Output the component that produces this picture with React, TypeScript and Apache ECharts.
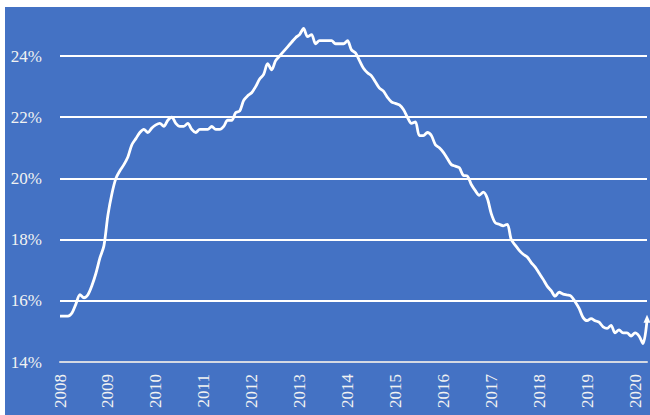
import { useEffect, useRef } from "react";
import * as echarts from "echarts";

// Year tick labels (one label at each January)
const years = ["2008", "2009", "2010", "2011", "2012", "2013", "2014", "2015", "2016", "2017", "2018", "2019", "2020"];

// Monthly values (%), Jan 2008 – Apr 2020
const values = [
  15.5, 15.5, 15.5, 15.6, 15.9, 16.2, 16.1, 16.2, 16.5, 16.9, 17.4, 17.8,
  18.8, 19.5, 20.0, 20.25, 20.45, 20.7, 21.1, 21.3, 21.5, 21.6, 21.5, 21.65,
  21.75, 21.8, 21.7, 21.9, 22.0, 21.8, 21.7, 21.7, 21.8, 21.6, 21.5, 21.6,
  21.6, 21.6, 21.7, 21.6, 21.6, 21.7, 21.9, 21.9, 22.15, 22.2, 22.55, 22.7,
  22.8, 23.0, 23.25, 23.4, 23.75, 23.55, 23.85, 24.0, 24.15, 24.3, 24.45, 24.6,
  24.7, 24.9, 24.63, 24.7, 24.4, 24.5, 24.5, 24.5, 24.5, 24.4, 24.4, 24.4,
  24.5, 24.2, 24.1, 23.85, 23.6, 23.45, 23.35, 23.15, 22.95, 22.85, 22.65, 22.5,
  22.45, 22.4, 22.25, 22.0, 21.8, 21.85, 21.4, 21.4, 21.5, 21.4, 21.1, 21.0,
  20.85, 20.65, 20.45, 20.4, 20.35, 20.1, 20.08, 19.8, 19.6, 19.45, 19.55, 19.35,
  18.85, 18.55, 18.5, 18.45, 18.5, 18.0, 17.82, 17.65, 17.52, 17.43, 17.25, 17.1,
  16.9, 16.7, 16.48, 16.33, 16.15, 16.28, 16.22, 16.19, 16.15, 15.97, 15.75, 15.45,
  15.35, 15.42, 15.35, 15.3, 15.15, 15.1, 15.2, 14.95, 15.05, 14.95, 14.95, 14.85,
  14.95, 14.85, 14.6, 15.35,
];

const monthCodes = ["01", "02", "03", "04", "05", "06", "07", "08", "09", "10", "11", "12"];

const categories: string[] = [];
years.forEach((y) => monthCodes.forEach((m) => categories.push(`${y}-${m}`)));
const xCats = categories.slice(0, values.length);

const FONT = '"Liberation Serif", "Times New Roman", serif';
const BLUE = "#4472C4";

export default function App() {
  const ref = useRef<HTMLDivElement>(null);

  useEffect(() => {
    if (!ref.current) return;
    const chart = echarts.init(ref.current, undefined, { renderer: "svg" });
    const seriesData = values.map((v, i) =>
      i === values.length - 1
        ? { value: v, symbol: "triangle", symbolSize: [7, 8], symbolOffset: [0, -2] }
        : v
    );
    chart.setOption({
      animation: false,
      backgroundColor: "transparent",
      textStyle: { fontFamily: FONT },
      grid: { left: 55, right: 3, top: 18.4, bottom: 53, containLabel: false },
      xAxis: {
        type: "category",
        data: xCats,
        boundaryGap: false,
        axisLine: { show: true, lineStyle: { color: "#d4d9e3", width: 2 } },
        axisTick: { show: false },
        splitLine: { show: false },
        axisLabel: {
          interval: (_i: number, v: string) => v.endsWith("-01"),
          formatter: (v: string) => v.slice(0, 4),
          rotate: 90,
          margin: 12,
          color: "#f2f2f2",
          fontSize: 17,
          fontFamily: FONT,
        },
      },
      yAxis: {
        type: "value",
        min: 14,
        max: 25,
        interval: 2,
        axisLine: { show: false },
        axisTick: { show: false },
        axisLabel: {
          formatter: (v: number) => `${v}%`,
          showMaxLabel: false,
          margin: 18,
          color: "#f2f2f2",
          fontSize: 17,
          fontFamily: FONT,
        },
        splitLine: {
          show: true,
          showMaxLine: false,
          showMinLine: false,
          lineStyle: { color: "#ffffff", width: 2 },
        },
      },
      series: [
        {
          type: "line",
          data: seriesData,
          symbol: "none",
          showSymbol: true,
          showAllSymbol: true,
          smooth: 0.3,
          lineStyle: { color: "#ffffff", width: 2.8 },
          itemStyle: { color: "#ffffff" },
        },
      ],
    });
    return () => chart.dispose();
  }, []);

  return (
    <div style={{ position: "fixed", left: 0, top: 0, width: 650, height: 415, background: "#ffffff" }}>
      <div style={{ position: "absolute", left: 5, top: 7, width: 645, height: 408, background: BLUE }}>
        <div ref={ref} style={{ width: 645, height: 408 }} />
      </div>
    </div>
  );
}
